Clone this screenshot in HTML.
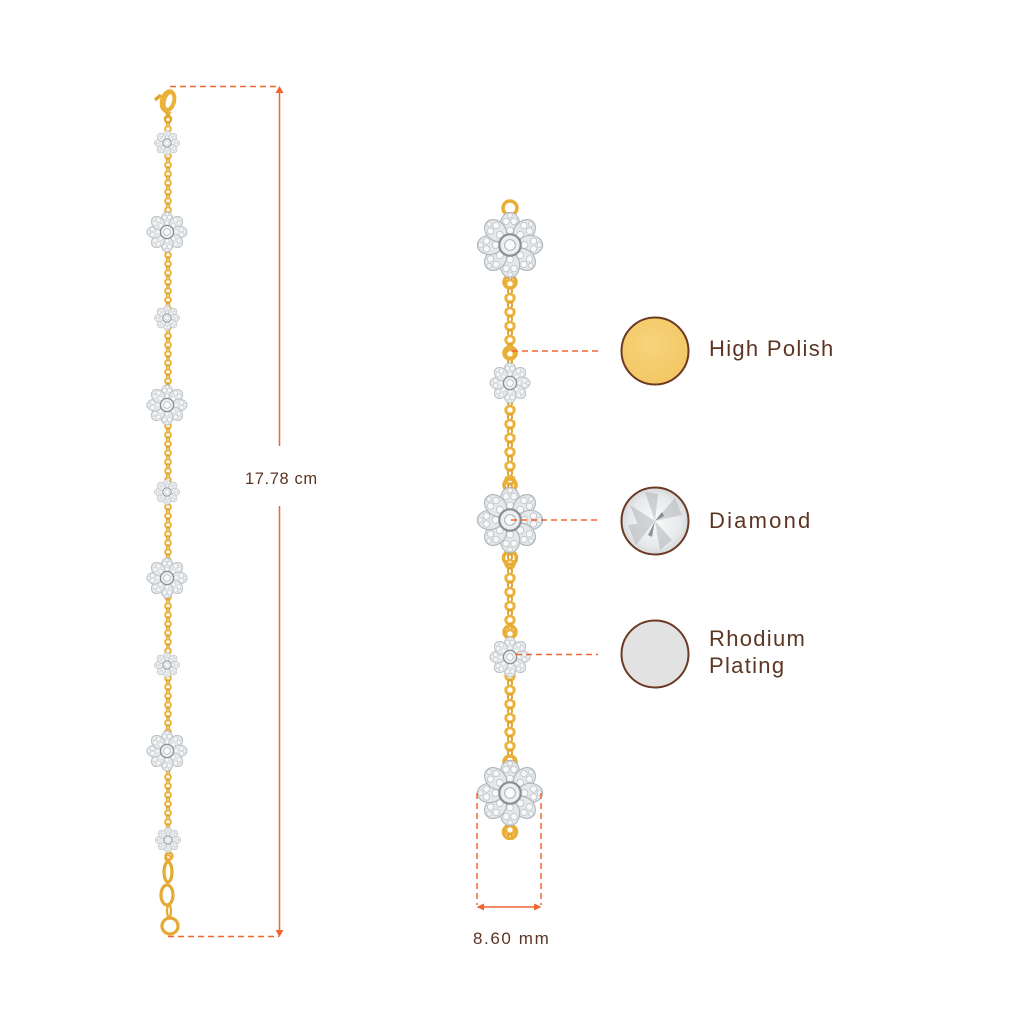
<!DOCTYPE html>
<html>
<head>
<meta charset="utf-8">
<style>
html,body{margin:0;padding:0;background:#fff;}
svg{display:block;}
text{font-family:"Liberation Sans",sans-serif;fill:#5c3523;}
</style>
</head>
<body>
<svg width="1024" height="1024" viewBox="0 0 1024 1024" xmlns="http://www.w3.org/2000/svg">
<defs>
  <g id="petal">
    <ellipse cx="0" cy="-19" rx="9" ry="11.5" fill="#e4e8ea" stroke="#aeb4b8" stroke-width="1"/>
    <circle cx="0" cy="-13.5" r="3.2" fill="#f7f9fa" stroke="#c0c5c9" stroke-width="0.8"/>
    <circle cx="-3.7" cy="-22" r="3" fill="#f7f9fa" stroke="#c0c5c9" stroke-width="0.8"/>
    <circle cx="3.7" cy="-22" r="3" fill="#f7f9fa" stroke="#c0c5c9" stroke-width="0.8"/>
    <circle cx="0" cy="-27.5" r="2.3" fill="#f2f4f5" stroke="#c0c5c9" stroke-width="0.7"/>
  </g>
  <g id="fl">
    <use href="#petal"/>
    <use href="#petal" transform="rotate(45)"/>
    <use href="#petal" transform="rotate(90)"/>
    <use href="#petal" transform="rotate(135)"/>
    <use href="#petal" transform="rotate(180)"/>
    <use href="#petal" transform="rotate(225)"/>
    <use href="#petal" transform="rotate(270)"/>
    <use href="#petal" transform="rotate(315)"/>
    <circle r="10" fill="#eceeef" stroke="#8a8f93" stroke-width="2"/>
    <circle r="5" fill="#fafafa" stroke="#b0b5b9" stroke-width="1"/>
  </g>
  <pattern id="chainR" patternUnits="userSpaceOnUse" x="503" y="0" width="14" height="14">
    <circle cx="7" cy="4" r="4.2" fill="none" stroke="#ebb43d" stroke-width="3"/>
    <ellipse cx="7" cy="11" rx="2" ry="3.6" fill="none" stroke="#dea42e" stroke-width="2"/>
  </pattern>
  <pattern id="chainL" patternUnits="userSpaceOnUse" x="163" y="0" width="10" height="9">
    <circle cx="5" cy="3" r="2.8" fill="none" stroke="#ebb43d" stroke-width="2.1"/>
    <ellipse cx="5" cy="7.3" rx="1.3" ry="2.4" fill="none" stroke="#dea42e" stroke-width="1.5"/>
  </pattern>
  <radialGradient id="gold" cx="0.45" cy="0.4" r="0.7">
    <stop offset="0" stop-color="#f8d47c"/>
    <stop offset="1" stop-color="#f2c560"/>
  </radialGradient>
  <radialGradient id="dia" cx="0.5" cy="0.5" r="0.55">
    <stop offset="0" stop-color="#fafbfb"/>
    <stop offset="0.7" stop-color="#e6e8ea"/>
    <stop offset="1" stop-color="#cfd2d4"/>
  </radialGradient>
</defs>

<!-- LEFT BRACELET -->
<rect x="163" y="112" width="10" height="750" fill="url(#chainL)"/>
<!-- clasp -->
<g>
  <ellipse cx="168" cy="101" rx="8" ry="12" fill="#eab138" transform="rotate(15 168 101)"/>
  <ellipse cx="169" cy="101" rx="3" ry="7" fill="#fff" transform="rotate(15 169 101)"/>
  <path d="M161 95 L155 100" stroke="#e2a632" stroke-width="3.5" fill="none"/>
  <circle cx="168" cy="119" r="3.2" fill="none" stroke="#e2a632" stroke-width="2.2"/>
</g>
<!-- bottom links -->
<g fill="none" stroke="#e6a932" stroke-width="3.2">
  <circle cx="169" cy="856" r="3.5" stroke-width="2.2"/>
  <ellipse cx="168" cy="872" rx="4" ry="10"/>
  <ellipse cx="167" cy="895" rx="6" ry="10"/>
  <ellipse cx="169" cy="911" rx="2" ry="6" stroke-width="2.2"/>
  <circle cx="170" cy="926" r="8"/>
</g>
<!-- left flowers -->
<use href="#fl" transform="translate(167 143) scale(0.42)"/>
<use href="#fl" transform="translate(167 232) scale(0.66)"/>
<use href="#fl" transform="translate(167 318) scale(0.42)"/>
<use href="#fl" transform="translate(167 405) scale(0.66)"/>
<use href="#fl" transform="translate(167 492) scale(0.42)"/>
<use href="#fl" transform="translate(167 578) scale(0.66)"/>
<use href="#fl" transform="translate(167 665) scale(0.42)"/>
<use href="#fl" transform="translate(167 751) scale(0.66)"/>
<use href="#fl" transform="translate(168 840) scale(0.42)"/>

<!-- left dimension -->
<g stroke="#f26430" stroke-width="1.5" fill="none">
  <line x1="170" y1="86.5" x2="279" y2="86.5" stroke-dasharray="6 4"/>
  <line x1="168" y1="936.5" x2="279" y2="936.5" stroke-dasharray="6 4"/>
  <line x1="279.5" y1="90" x2="279.5" y2="446"/>
  <line x1="279.5" y1="506" x2="279.5" y2="933"/>
</g>
<polygon points="279.5,86 275.5,93 283.5,93" fill="#f26430"/>
<polygon points="279.5,937 275.5,930 283.5,930" fill="#f26430"/>
<text x="245" y="484" font-size="16.5" letter-spacing="0.6">17.78 cm</text>

<!-- RIGHT BRACELET -->
<rect x="503" y="212" width="14" height="625" fill="url(#chainR)"/>
<g fill="none" stroke="#e9ae36" stroke-width="3.5">
  <circle cx="510" cy="208" r="7"/>
  <circle cx="510" cy="282" r="6"/>
  <circle cx="510" cy="353" r="6"/>
  <circle cx="510" cy="485" r="6"/>
  <circle cx="510" cy="558" r="6.5"/>
  <circle cx="510" cy="632" r="6"/>
  <circle cx="510" cy="762" r="6"/>
  <circle cx="510" cy="832" r="6.5"/>
</g>
<rect x="500" y="840" width="20" height="10" fill="#fff"/>
<use href="#fl" transform="translate(510 245) scale(1.07)"/>
<use href="#fl" transform="translate(510 383) scale(0.66)"/>
<use href="#fl" transform="translate(510 520) scale(1.07)"/>
<use href="#fl" transform="translate(510 657) scale(0.66)"/>
<use href="#fl" transform="translate(510 793) scale(1.07)"/>

<!-- connectors -->
<g stroke="#f26430" stroke-width="1.5" fill="none" stroke-dasharray="6 4">
  <line x1="512" y1="351" x2="598" y2="351"/>
  <line x1="511" y1="520" x2="598" y2="520"/>
  <line x1="516" y1="654.5" x2="598" y2="654.5"/>
  <line x1="477" y1="793" x2="477" y2="905"/>
  <line x1="541" y1="793" x2="541" y2="905"/>
</g>
<line x1="480" y1="907" x2="538" y2="907" stroke="#f26430" stroke-width="1.5"/>
<polygon points="476.5,907 484,903.5 484,910.5" fill="#f26430"/>
<polygon points="541.5,907 534,903.5 534,910.5" fill="#f26430"/>
<text x="473" y="944" font-size="17" letter-spacing="1.6">8.60 mm</text>

<!-- legend circles -->
<circle cx="655" cy="351" r="33.5" fill="url(#gold)" stroke="#6b3a22" stroke-width="2"/>
<circle cx="655" cy="521" r="33.5" fill="url(#dia)"/>
<g fill="#a7abae" opacity="0.45">
  <polygon points="655,521 630,505 640,530"/>
  <polygon points="655,521 675,498 682,515"/>
  <polygon points="655,521 660,550 672,540"/>
  <polygon points="655,521 628,525 636,545"/>
  <polygon points="655,521 645,492 658,494"/>
</g>
<g fill="#55595c" opacity="0.6">
  <polygon points="655,521 648,535 652,537"/>
  <polygon points="655,521 662,512 664,516"/>
</g>
<circle cx="655" cy="521" r="33.5" fill="none" stroke="#6b3a22" stroke-width="2"/>
<circle cx="655" cy="654" r="33.5" fill="#e2e2e2" stroke="#6b3a22" stroke-width="2"/>

<text x="709" y="356" font-size="22" letter-spacing="1.3">High Polish</text>
<text x="709" y="528" font-size="22" letter-spacing="2.2">Diamond</text>
<text x="709" y="646" font-size="22" letter-spacing="1.3">Rhodium</text>
<text x="709" y="673" font-size="22" letter-spacing="1.3">Plating</text>
</svg>
</body>
</html>
